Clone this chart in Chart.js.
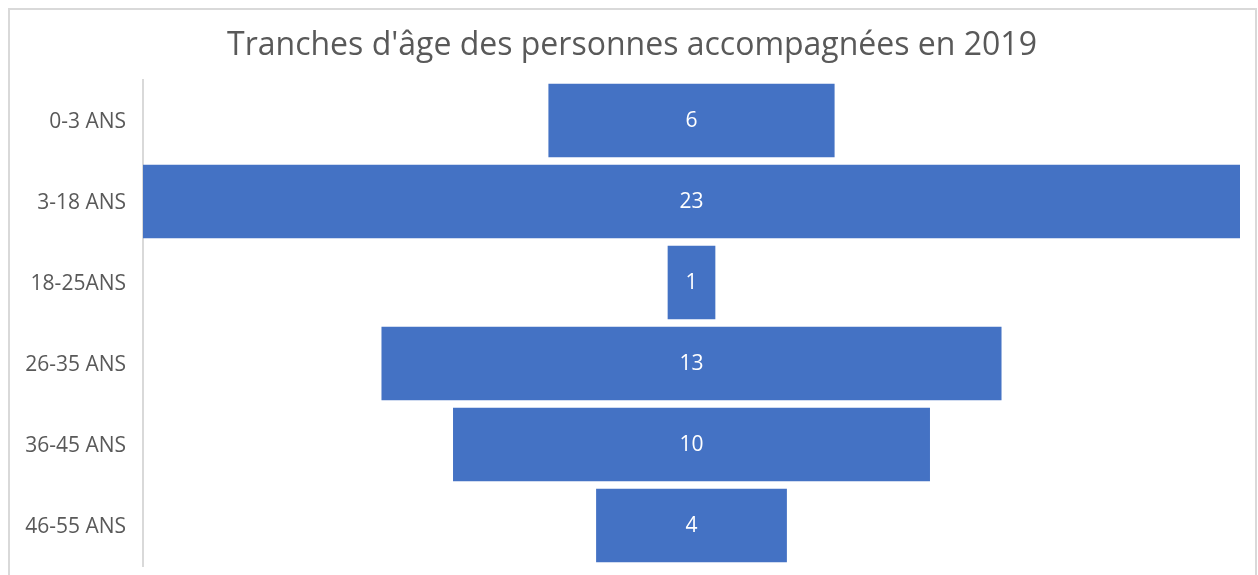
<!DOCTYPE html>
<html><head><meta charset="utf-8">
<script src="https://cdn.jsdelivr.net/npm/chart.js@4/dist/chart.umd.min.js"></script>
<style>
html,body{margin:0;padding:0;background:#fff;width:1258px;height:575px;overflow:hidden}
#frame{position:absolute;left:8px;top:8px;width:1249px;height:600px;border:2px solid #d9d9d9;box-sizing:border-box}
#c{position:absolute;left:0;top:0}
</style></head>
<body>
<div id="frame"></div>
<canvas id="c" width="1258" height="575"></canvas>
<script>
const categories = ["0-3 ANS","3-18 ANS","18-25ANS","26-35 ANS","36-45 ANS","46-55 ANS"];
const values = [6,23,1,13,10,4];
const titleText = "Tranches d'âge des personnes accompagnées en 2019";

const labelPlugin = {
  id:'centerLabels',
  afterDatasetsDraw(chart){
    const ctx = chart.ctx;
    const meta = chart.getDatasetMeta(0);
    ctx.save();
    ctx.fillStyle = '#ffffff';
    ctx.font = '21px "Open Sans", sans-serif';
    ctx.textAlign = 'center';
    ctx.textBaseline = 'middle';
    meta.data.forEach((bar,i)=>{
      const p = bar.getProps(['x','base','y'],true);
      ctx.fillText(String(values[i]), (p.x+p.base)/2, p.y+1);
    });
    ctx.restore();
  }
};
const titlePlugin = {
  id:'customTitle',
  afterDraw(chart){
    const ctx = chart.ctx;
    ctx.save();
    ctx.fillStyle = '#595959';
    ctx.font = '32px "Open Sans", sans-serif';
    ctx.textAlign = 'center';
    ctx.textBaseline = 'middle';
    ctx.fillText(titleText, 632, 46);
    ctx.restore();
  }
};

new Chart(document.getElementById('c'),{
  type:'bar',
  data:{
    labels:categories,
    datasets:[{
      data: values.map(v=>[-v/2, v/2]),
      backgroundColor:'#4472C4',
      borderWidth:0,
      categoryPercentage:1,
      barPercentage:0.91
    }]
  },
  options:{
    indexAxis:'y',
    responsive:false,
    animation:false,
    layout:{padding:{left:0,right:18,top:80,bottom:9}},
    plugins:{
      legend:{display:false},
      tooltip:{enabled:false},
      title:{display:false}
    },
    scales:{
      x:{display:false,min:-11.5,max:11.5},
      y:{
        grid:{display:false,drawTicks:false},
        border:{display:true,color:'#d9d9d9',width:2},
        ticks:{color:'#595959',font:{family:'"Open Sans", sans-serif',size:21},padding:17,labelOffset:2},
        afterFit(scale){scale.width=143;scale.paddingTop=0;scale.paddingBottom=0;}
      }
    }
  },
  plugins:[labelPlugin,titlePlugin]
});
</script>
</body></html>
